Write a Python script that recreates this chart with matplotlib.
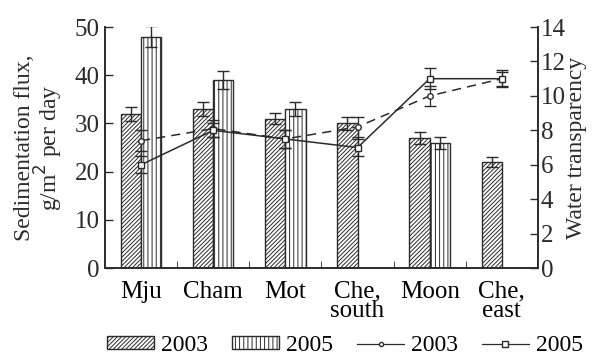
import numpy as np
import matplotlib.pyplot as plt
from matplotlib.lines import Line2D
from matplotlib.patches import Patch

plt.rcParams['font.family'] = ['Liberation Serif', 'DejaVu Serif']
plt.rcParams['hatch.linewidth'] = 0.7
plt.rcParams['hatch.color'] = '#333333'

sites = ["Mju", "Cham", "Mot", "Che,\nsouth", "Moon", "Che,\neast"]

# sedimentation flux, g/m2 per day (None = no sample)
flux_2003 = [32, 33, 31, 30, 27, 22]
flux_2003_err = [1.4, 1.5, 1.2, 1.3, 1.2, 1.0]
flux_2005 = [48, 39, 33, None, 26, None]
flux_2005_err = [2.2, 1.9, 1.5, None, 1.2, None]

# water transparency, m
transp_2003 = [7.4, 8.1, 7.5, 8.2, 10.0, 11.0]
transp_2003_err = [0.6, 0.5, 0.5, 0.6, 0.6, 0.5]
transp_2005 = [6.0, 8.0, 7.5, 7.0, 11.0, 11.0]
transp_2005_err = [0.5, 0.4, 0.5, 0.5, 0.6, 0.4]

ink = '#2b2b2b'
x = np.arange(len(sites))
w = 0.28

fig = plt.figure(figsize=(5.95, 3.56), dpi=100)
ax = fig.add_axes([0.1765, 0.247, 0.7275, 0.677])
ax2 = ax.twinx()

x05 = [xi for xi, v in zip(x, flux_2005) if v is not None]
v05 = [v for v in flux_2005 if v is not None]
e05 = [e for e in flux_2005_err if e is not None]

ax.bar(x - w / 2, flux_2003, w, yerr=flux_2003_err, color='white',
       edgecolor=ink, linewidth=1.0, hatch='////////',
       error_kw=dict(ecolor=ink, elinewidth=1.0, capsize=4, capthick=1.0))
ax.bar(np.array(x05) + w / 2, v05, w, yerr=e05, color='white',
       edgecolor=ink, linewidth=1.0, hatch='||||',
       error_kw=dict(ecolor=ink, elinewidth=1.0, capsize=4, capthick=1.0))

ax2.errorbar(x, transp_2003, yerr=transp_2003_err, color=ink, ls=(0, (6, 4)),
             lw=1.1, marker='o', ms=4, mfc='white', mec=ink,
             capsize=4, elinewidth=0.9)
ax2.errorbar(x, transp_2005, yerr=transp_2005_err, color=ink, ls='-',
             lw=1.1, marker='s', ms=5, mfc='white', mec=ink,
             capsize=4, elinewidth=0.9)

ax.set_xlim(-0.5, 5.5)
ax.set_ylim(0, 50)
ax2.set_ylim(0, 14)
ax.set_yticks(range(0, 51, 10))
ax2.set_yticks(range(0, 15, 2))
ax.set_xticks(x)
ax.set_xticklabels(sites, fontsize=18, linespacing=0.85)
ax.set_xticks(np.arange(0.5, 5.5, 1), minor=True)
ax.tick_params(axis='x', which='major', length=0, pad=9)
ax.tick_params(axis='x', which='minor', direction='in', length=5, color=ink)
ax.tick_params(axis='y', direction='in', length=6, labelsize=18, colors=ink,
               width=1.0, pad=4)
ax2.tick_params(axis='y', direction='in', length=6, labelsize=18, colors=ink,
                width=1.0, pad=2)

for a in (ax, ax2):
    a.spines['top'].set_visible(False)
    for s in ('left', 'right', 'bottom'):
        a.spines[s].set_color(ink)
        a.spines[s].set_linewidth(1.2)

ax.set_ylabel("Sedimentation flux,\ng/m$^2$ per day", fontsize=17,
              color=ink, linespacing=0.9, labelpad=7)
ax2.set_ylabel("Water transparency", fontsize=17, color=ink, labelpad=0)

handles = [
    Patch(facecolor='white', edgecolor=ink, hatch='////////', lw=1.0),
    Patch(facecolor='white', edgecolor=ink, hatch='||||', lw=1.0),
    Line2D([], [], color=ink, lw=0.9, marker='o', ms=3, mfc='white'),
    Line2D([], [], color=ink, lw=0.9, marker='s', ms=4, mfc='white'),
]
fig.legend(handles, ["2003", "2005", "2003", "2005"], loc='lower center',
           bbox_to_anchor=(0.58, -0.06), ncol=4, frameon=False, fontsize=17,
           handlelength=2.0, handleheight=0.45, handletextpad=0.3,
           columnspacing=1.0)

fig.savefig("out.png", dpi=100)
